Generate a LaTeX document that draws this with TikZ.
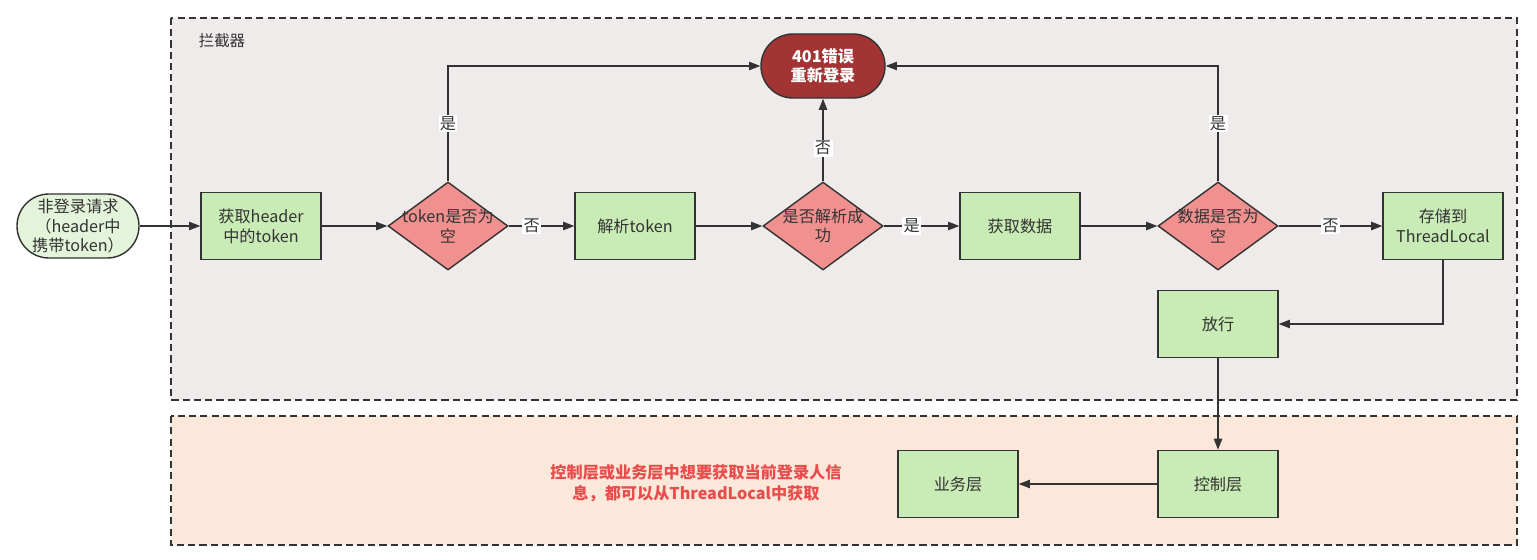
\documentclass[tikz,border=0pt]{standalone}
\usepackage{fontspec}
\setmainfont{Noto Sans CJK SC}
\usetikzlibrary{shapes.geometric,arrows.meta}

\definecolor{lanebg}{HTML}{EFEBEA}
\definecolor{ctrlbg}{HTML}{FBE8DA}
\definecolor{boxgreen}{HTML}{C9EBB5}
\definecolor{startgreen}{HTML}{E3F4DA}
\definecolor{decred}{HTML}{F09190}
\definecolor{errred}{HTML}{A33434}
\definecolor{notered}{HTML}{E84C4C}
\definecolor{linegray}{HTML}{333333}
\definecolor{txtgray}{HTML}{333333}

\begin{document}
\begin{tikzpicture}[x=0.025cm,y=-0.025cm,
    every node/.style={font=\fontsize{11.5}{14}\selectfont, text=txtgray},
    lane/.style={draw=linegray, line width=1pt, dash pattern=on 5pt off 3pt},
    stepbox/.style={rectangle, draw=linegray, line width=1pt, fill=boxgreen,
        minimum width=3cm, minimum height=1.675cm, align=center},
    decision/.style={diamond, draw=linegray, line width=1pt, fill=decred,
        minimum width=3cm, minimum height=2.2cm, inner sep=0pt},
    inside/.style={align=center, text width=2.9cm, text=txtgray},
    flow/.style={draw=linegray, line width=1pt, -{Triangle[length=8pt,width=6pt]}},
    yesno/.style={fill=white, inner sep=1pt}]
                \useasboundingbox (0,0) rectangle (1537,559);

                % Lanes
                \filldraw[lane, fill=lanebg] (171,18) rectangle (1517,400);
                \filldraw[lane, fill=ctrlbg] (171,416) rectangle (1517,545);
                \node[font=\fontsize{11}{13}\selectfont] (lanetitle) at (222,41) {拦截器};

                % Nodes
                \node[rectangle, rounded corners=0.8cm, draw=linegray, line width=1pt, fill=startgreen,
                    minimum width=3.05cm, minimum height=1.6cm, align=center, inner sep=1pt]
                    (start) at (78,226) {非登录请求\\（header中\\携带token）};
                \node[stepbox] (hdr) at (261,226) {获取header\\中的token};
                \node[decision, label={[inside]center:token是否为\\空}] (chk1) at (448,226) {};
                \node[stepbox] (parse) at (635,226) {解析token};
                \node[decision, label={[inside]center:是否解析成\\功}] (chk2) at (823,226) {};
                \node[stepbox] (fetch) at (1020,226) {获取数据};
                \node[decision, label={[inside]center:数据是否为\\空}] (chk3) at (1218,226) {};
                \node[stepbox] (store) at (1443,226) {存储到\\ThreadLocal};
                \node[stepbox] (pass) at (1218,324) {放行};
                \node[stepbox] (ctrl) at (1218,484) {控制层};
                \node[stepbox] (biz) at (958,484) {业务层};
                \node[rectangle, rounded corners=0.8cm, draw=linegray, line width=1pt, fill=errred,
                    minimum width=3.1cm, minimum height=1.6cm, align=center, text=white,
                    font=\bfseries\fontsize{11.5}{14}\selectfont]
                    (err) at (823,66) {401错误\\重新登录};
                \node[text=notered, align=center, font=\bfseries\fontsize{11.5}{15}\selectfont]
                    (note) at (696,483) {控制层或业务层中想要获取当前登录人信\\息，都可以从ThreadLocal中获取};

                % Edges
                \draw[flow] (start) -- (hdr);
                \draw[flow] (hdr) -- (chk1);
                \draw[flow] (chk1) -- node[yesno, pos=0.35] {否} (parse);
                \draw[flow] (parse) -- (chk2);
                \draw[flow] (chk2) -- node[yesno, pos=0.37] {是} (fetch);
                \draw[flow] (fetch) -- (chk3);
                \draw[flow] (chk3) -- node[yesno] {否} (store);
                \draw[flow] (chk1.north) |- node[yesno, pos=0.25] {是} (err.west);
                \draw[flow] (chk2) -- node[yesno, pos=0.4] {否} (err);
                \draw[flow] (chk3.north) |- node[yesno, pos=0.25] {是} (err.east);
                \draw[flow] (store.south) |- (pass.east);
                \draw[flow] (pass) -- (ctrl);
                \draw[flow] (ctrl) -- (biz);
\end{tikzpicture}
\end{document}
